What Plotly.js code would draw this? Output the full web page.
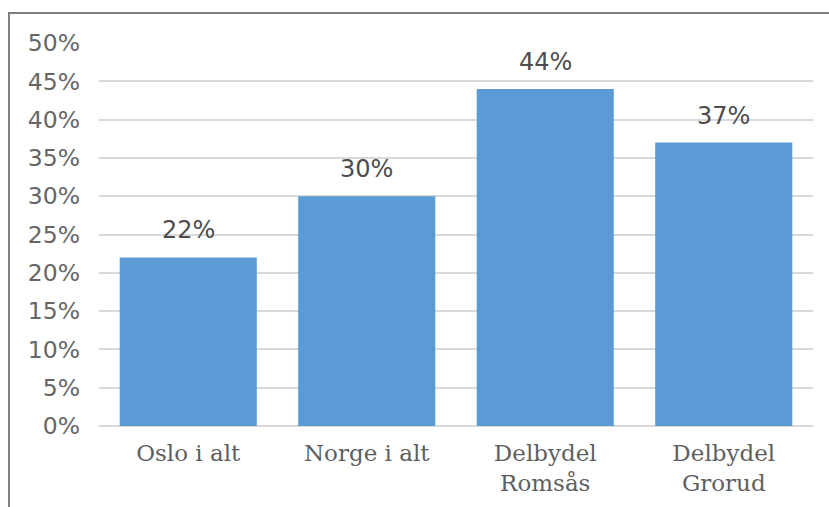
<!DOCTYPE html>
<html>
<head>
<meta charset="utf-8">
<script src="https://cdn.plot.ly/plotly-3.0.1.min.js"></script>
<style>
  html, body { margin: 0; padding: 0; background: #ffffff; }
  #frame { position: absolute; left: 8px; top: 12px; width: 900px; height: 600px;
           border-left: 2px solid #7f7f7f; border-top: 2px solid #7f7f7f; }
  #chart { position: absolute; left: 0; top: 0; width: 829px; height: 507px; }
</style>
</head>
<body>
<div id="frame"></div>
<div id="chart"></div>
<script>
const categories = ["Oslo i alt", "Norge i alt", "Delbydel<br>Romsås", "Delbydel<br>Grorud"];
const values = [22, 30, 44, 37];
const tickValues = [0, 5, 10, 15, 20, 25, 30, 35, 40, 45, 50];
const tickLabels = ["0%", "5%", "10%", "15%", "20%", "25%", "30%", "35%", "40%", "45%", "50%"];

const trace = {
  type: "bar",
  x: categories,
  y: values,
  marker: { color: "#5B9BD5" },
  hoverinfo: "none"
};

const annotations = categories.map((c, i) => ({
  x: c, y: values[i], xref: "x", yref: "y",
  text: values[i] + "%",
  showarrow: false,
  yanchor: "middle",
  yshift: 27,
  font: { family: "DejaVu Sans", size: 24, color: "#4d4d4d" }
}));

const layout = {
  width: 829, height: 507,
  margin: { l: 99, r: 16, t: 43, b: 81 },
  paper_bgcolor: "rgba(0,0,0,0)",
  plot_bgcolor: "rgba(0,0,0,0)",
  showlegend: false,
  bargap: 0.232,
  xaxis: {
    tickfont: { family: "DejaVu Serif", size: 23, color: "#5f5f5f" },
    showgrid: false,
    showline: false,
    ticks: "",
    ticklabelstandoff: 11
  },
  yaxis: {
    range: [0, 50],
    tickvals: tickValues,
    ticktext: tickLabels,
    tickfont: { family: "DejaVu Sans", size: 23.5, color: "#666666" },
    gridcolor: "#d9d9d9",
    gridwidth: 2,
    zeroline: true,
    zerolinecolor: "#d9d9d9",
    zerolinewidth: 2,
    showline: false,
    ticks: "",
    ticklabelstandoff: 18
  },
  annotations: annotations
};

Plotly.newPlot("chart", [trace], layout, { staticPlot: true, displayModeBar: false });
</script>
</body>
</html>
